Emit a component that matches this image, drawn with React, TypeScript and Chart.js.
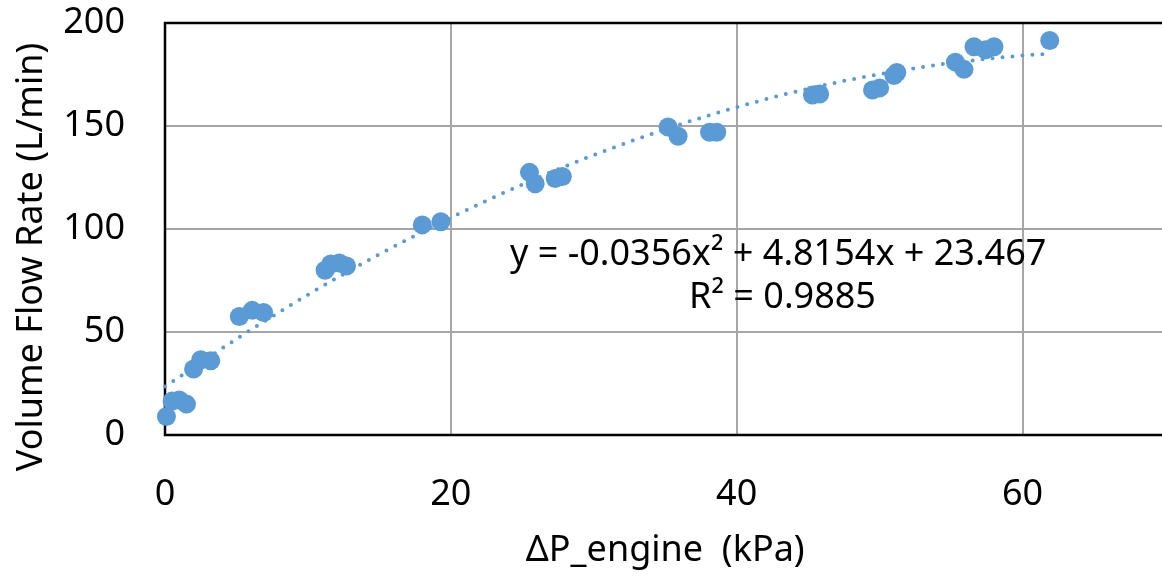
import React, { useEffect, useRef } from "react";
import { Chart, registerables } from "chart.js";

Chart.register(...registerables);

// Measured data (ΔP_engine in kPa, volume flow rate in L/min)
const pressureKPa = [
  0.1, 0.5, 1.0, 1.5,
  2.0, 2.5, 3.2,
  5.2, 6.1, 6.9,
  11.2, 11.6, 12.2, 12.7,
  18.0, 19.3,
  25.5, 25.9, 27.3, 27.8,
  35.2, 35.9, 38.1, 38.6,
  45.3, 45.8, 49.5, 50.0, 51.0, 51.2,
  55.3, 55.9, 56.6, 57.4, 58.0, 61.9,
];
const flowLmin = [
  9, 16.5, 17, 15,
  32, 36.5, 36,
  57.5, 60.5, 59.5,
  80, 83, 83.5, 82,
  102, 103.5,
  127.5, 122, 124.5, 125.5,
  149.5, 145, 147, 147,
  165, 165.5, 167.5, 168.5, 174.5, 176,
  181, 177.5, 188.5, 187, 188.5, 191.5,
];

// Trendline (dotted polynomial curve)
const trendX = [0, 5, 10, 15, 20, 25, 30, 35, 40, 45, 50, 55, 60, 61.9];
const trendY = [23.5, 46.6, 68.1, 87.7, 105.5, 121.6, 135.9, 148.4, 159.1, 168.1, 175.2, 180.6, 184.2, 185.1];

const equationLines = ["y = -0.0356x\u00B2 + 4.8154x + 23.467", "R\u00B2 = 0.9885"];
const xTitle = "\u0394P_engine  (kPa)";
const yTitle = "Volume Flow Rate (L/min)";

const FONT = "'Noto Sans', sans-serif";
const BLUE = "#5B9BD5";

export default function App() {
  const ref = useRef<HTMLCanvasElement | null>(null);

  useEffect(() => {
    if (!ref.current) return;

    const framePlugin = {
      id: "frame",
      beforeDatasetsDraw(chart: any) {
        const { ctx, chartArea } = chart;
        ctx.save();
        ctx.strokeStyle = "#000";
        ctx.lineWidth = 2.5;
        ctx.strokeRect(chartArea.left, chartArea.top, chartArea.right - chartArea.left, chartArea.bottom - chartArea.top);
        ctx.restore();
      },
      afterDraw(chart: any) {
        const { ctx, scales } = chart;
        const xs = scales.x;
        const ys = scales.y;
        ctx.save();
        ctx.fillStyle = "#000";
        ctx.font = `36px ${FONT}`;
        ctx.textAlign = "center";
        ctx.textBaseline = "alphabetic";
        ctx.fillText(equationLines[0], xs.getPixelForValue(42.9), ys.getPixelForValue(82.5));
        ctx.fillText(equationLines[1], xs.getPixelForValue(43.2), ys.getPixelForValue(61.7));
        // y axis title
        ctx.translate(42, 257);
        ctx.rotate(-Math.PI / 2);
        ctx.fillText(yTitle, 0, 0);
        ctx.restore();
      },
    };

    const chart = new Chart(ref.current, {
      type: "scatter",
      data: {
        datasets: [
          {
            label: "Trendline",
            data: trendX.map((x, i) => ({ x, y: trendY[i] })),
            showLine: true,
            borderColor: BLUE,
            borderWidth: 4,
            borderDash: [0, 10],
            borderCapStyle: "round",
            cubicInterpolationMode: "monotone",
            pointRadius: 0,
            order: 0,
            clip: false,
          } as any,
          {
            label: "Measured",
            data: pressureKPa.map((x, i) => ({ x, y: flowLmin[i] })),
            backgroundColor: BLUE,
            borderWidth: 0,
            pointRadius: 9.5,
            order: 1,
            clip: false,
          } as any,
        ],
      },
      options: {
        responsive: false,
        animation: false,
        layout: { padding: { top: 23, right: 5, left: 0, bottom: 0 } },
        plugins: { legend: { display: false }, tooltip: { enabled: false } },
        scales: {
          x: {
            type: "linear",
            min: 0,
            max: 70,
            afterFit: (s: any) => {
              s.height = 141;
              s.paddingLeft = 0;
              s.paddingRight = 0;
            },
            ticks: {
              stepSize: 20,
              includeBounds: false,
              padding: 38,
              color: "#000",
              font: { family: FONT, size: 36 },
            },
            grid: {
              drawTicks: false,
              lineWidth: 2,
              color: (c: any) => (c.tick && (c.tick.value === 0 || c.tick.value === 70) ? "rgba(0,0,0,0)" : "#A6A6A6"),
            },
            border: { display: false },
            title: {
              display: true,
              text: xTitle,
              color: "#000",
              font: { family: FONT, size: 36 },
              padding: { top: 0, bottom: 4 },
            },
          },
          y: {
            type: "linear",
            min: 0,
            max: 200,
            afterFit: (s: any) => {
              s.width = 165;
              s.paddingTop = 0;
              s.paddingBottom = 0;
            },
            ticks: {
              stepSize: 50,
              padding: 40,
              color: "#000",
              font: { family: FONT, size: 36 },
            },
            grid: {
              drawTicks: false,
              lineWidth: 2,
              color: (c: any) => (c.tick && (c.tick.value === 0 || c.tick.value === 200) ? "rgba(0,0,0,0)" : "#A6A6A6"),
            },
            border: { display: false },
          },
        },
      },
      plugins: [framePlugin],
    });

    return () => chart.destroy();
  }, []);

  return (
    <div style={{ position: "absolute", left: 0, top: 0, width: 1162, height: 576, overflow: "hidden", background: "#fff" }}>
      <canvas ref={ref} width={1175} height={576} style={{ width: 1175, height: 576, display: "block" }} />
    </div>
  );
}
